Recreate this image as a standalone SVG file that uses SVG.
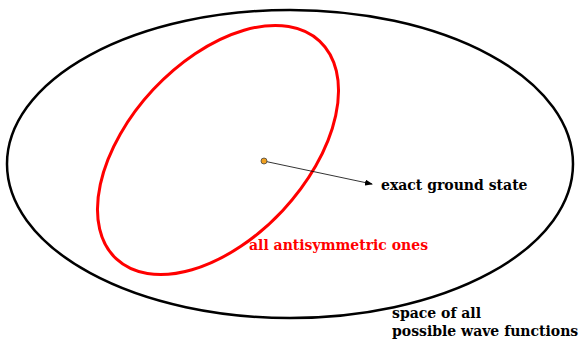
<svg xmlns="http://www.w3.org/2000/svg" width="580" height="344" viewBox="0 0 580 344">
<style>
.lbl{font-family:"DejaVu Serif","Liberation Serif",serif;font-weight:bold;font-size:14px;}
</style>
<defs>
<marker id="ah" markerWidth="8" markerHeight="6" refX="7" refY="3" orient="auto" markerUnits="userSpaceOnUse">
<path d="M0,0 L8,3 L0,6 Z" fill="#000"/>
</marker>
</defs>
<rect width="580" height="344" fill="#fff"/>
<g id="all-space">
<ellipse cx="290" cy="164" rx="283" ry="154" fill="none" stroke="#000" stroke-width="2.5"/>
<text class="lbl" x="392" y="318" fill="#000">space of all</text>
<text class="lbl" x="392" y="336" fill="#000">possible wave functions</text>
</g>
<g id="antisymmetric">
<ellipse cx="218" cy="150" rx="149" ry="88.6" transform="rotate(-47 218 150)" fill="none" stroke="#ff0000" stroke-width="3"/>
<text class="lbl" x="249" y="250" fill="#ff0000">all antisymmetric ones</text>
</g>
<g id="ground-state">
<text class="lbl" x="381" y="190" fill="#000">exact ground state</text>
</g>
<g id="connectors">
<line x1="266" y1="161.5" x2="372" y2="184" stroke="#000" stroke-width="0.8" marker-end="url(#ah)"/>
</g>
<g id="dot">
<circle cx="264" cy="161" r="3" fill="#f0a020" stroke="#444" stroke-width="0.8"/>
</g>
</svg>
